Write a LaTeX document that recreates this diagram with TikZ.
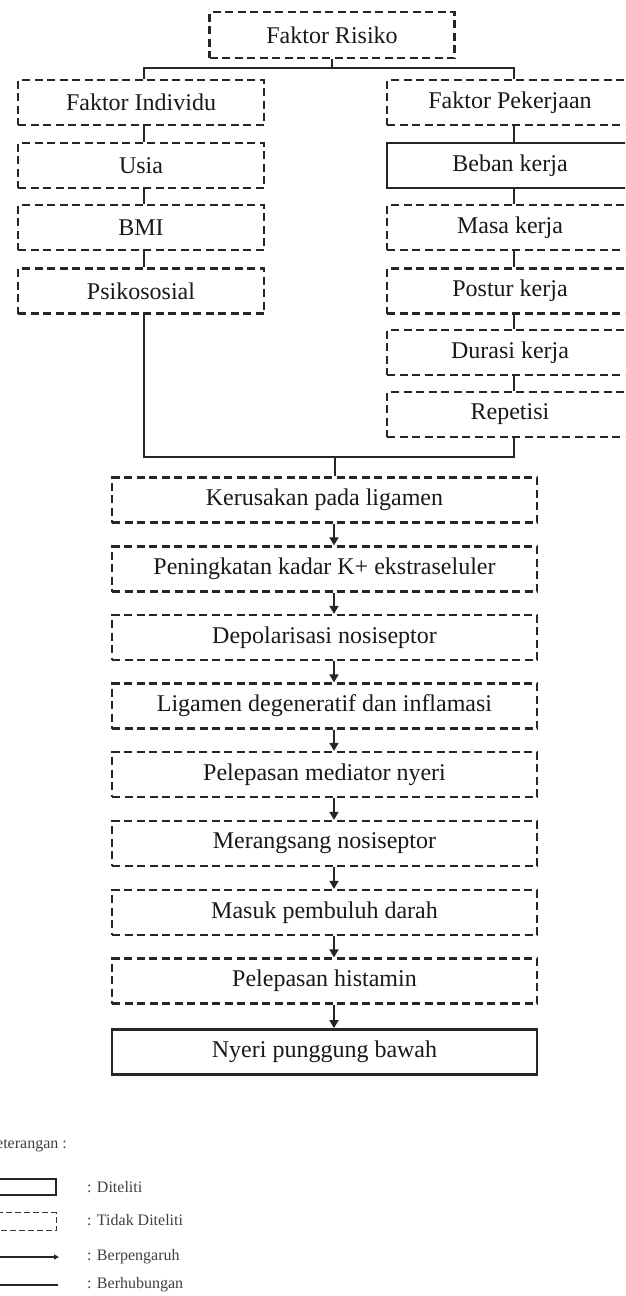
\documentclass[tikz,border=0pt]{standalone}
\usepackage{fontspec}
\setmainfont{Liberation Serif}
\usetikzlibrary{arrows.meta}
\tikzset{
  boxbase/.style={inner sep=0pt, align=center, font=\fontsize{24}{28}\selectfont, text=black!90},
  dbox/.style={boxbase, draw=black!85, dash pattern=on 8pt off 4.5pt, line width=2.2pt},
  sbox/.style={boxbase, draw=black!85, line width=2.8pt},
  colbox/.style={minimum width=246pt, minimum height=45pt},
  mainbox/.style={minimum width=425pt, minimum height=45pt},
  conn/.style={line width=1.7pt, draw=black!85},
  arr/.style={line width=1.7pt, draw=black!85, -{Triangle[length=8pt,width=9pt]}},
  legtext/.style={font=\fontsize{16}{18}\selectfont, text=black!75, anchor=west, inner sep=0pt}
}
\begin{document}
\begin{tikzpicture}[x=1pt,y=-1pt]
\clip (0,0) rectangle (625,1296);
\fill[white] (0,0) rectangle (625,1296);

% top
\node[dbox, minimum width=245pt, minimum height=46pt] (fr) at (332,35) {Faktor Risiko};

% left column
\node[dbox, colbox] (fi) at (141,102.5) {Faktor Individu};
\node[dbox, colbox] (usia) at (141,165.5) {Usia};
\node[dbox, colbox] (bmi) at (141,227.5) {BMI};
\node[dbox, colbox] (psi) at (141,291) {Psikososial};

% right column
\node[dbox, colbox] (fp) at (510,102.5) {Faktor Pekerjaan};
\node[sbox, colbox] (beban) at (510,165.5) {Beban kerja};
\node[dbox, colbox] (masa) at (510,227.5) {Masa kerja};
\node[dbox, colbox] (postur) at (510,291) {Postur kerja};
\node[dbox, colbox] (durasi) at (510,352.5) {Durasi kerja};
\node[dbox, colbox] (rep) at (510,414.5) {Repetisi};

% main chain
\node[dbox, mainbox] (m1) at (324.5,500) {Kerusakan pada ligamen};
\node[dbox, mainbox] (m2) at (324.5,569) {Peningkatan kadar K+ ekstraseluler};
\node[dbox, mainbox] (m3) at (324.5,637.5) {Depolarisasi nosiseptor};
\node[dbox, mainbox] (m4) at (324.5,706) {Ligamen degeneratif dan inflamasi};
\node[dbox, mainbox] (m5) at (324.5,774.5) {Pelepasan mediator nyeri};
\node[dbox, mainbox] (m6) at (324.5,843.5) {Merangsang nosiseptor};
\node[dbox, mainbox] (m7) at (324.5,912.5) {Masuk pembuluh darah};
\node[dbox, mainbox] (m8) at (324.5,981) {Pelepasan histamin};
\node[sbox, mainbox] (m9) at (324.5,1052) {Nyeri punggung bawah};

% helper coordinates
\coordinate (lx) at (144,0);
\coordinate (rx) at (514,0);
\coordinate (ax) at (334,0);
\coordinate (j1) at (332,68);
\coordinate (j2) at (335,457);

% connectors top
\draw[conn] (fr.south) -- (j1);
\draw[conn] (fi.north -| lx) |- (j1) -| (fp.north -| rx);
\draw[conn] (fi.south -| lx) -- (usia.north -| lx);
\draw[conn] (usia.south -| lx) -- (bmi.north -| lx);
\draw[conn] (bmi.south -| lx) -- (psi.north -| lx);
\draw[conn] (fp.south -| rx) -- (beban.north -| rx);
\draw[conn] (beban.south -| rx) -- (masa.north -| rx);
\draw[conn] (masa.south -| rx) -- (postur.north -| rx);
\draw[conn] (postur.south -| rx) -- (durasi.north -| rx);
\draw[conn] (durasi.south -| rx) -- (rep.north -| rx);
\draw[conn] (psi.south -| lx) |- (j2) -| (rep.south -| rx);
\draw[conn] (j2) -- (m1.north -| j2);

% chain arrows
\foreach \a/\b in {m1/m2,m2/m3,m3/m4,m4/m5,m5/m6,m6/m7,m7/m8,m8/m9}{
  \draw[arr] (\a.south -| ax) -- (\b.north -| ax);
}

% legend
\node[legtext, anchor=east] (ket) at (67,1145) {Keterangan :};
\node[draw=black!85, line width=2.4pt, minimum width=100pt, minimum height=16pt, inner sep=0pt, anchor=east] (ls) at (57,1187) {};
\node[draw=black!80, dash pattern=on 6pt off 3pt, line width=1.4pt, minimum width=100pt, minimum height=18pt, inner sep=0pt, anchor=east] (ld) at (57,1221.5) {};
\coordinate (la1) at (-10,1257);
\coordinate (la2) at (59,1257);
\draw[line width=1.3pt, draw=black!85, -{Triangle[length=5pt,width=5pt]}] (la1) -- (la2);
\coordinate (lb1) at (-10,1285);
\coordinate (lb2) at (58,1285);
\draw[line width=1.3pt, draw=black!85] (lb1) -- (lb2);
\node[legtext] (t1) at (87,1187) {: Diteliti};
\node[legtext] (t2) at (87,1220) {: Tidak Diteliti};
\node[legtext] (t3) at (87,1257) {: Berpengaruh};
\node[legtext] (t4) at (87,1285) {: Berhubungan};
\end{tikzpicture}
\end{document}
